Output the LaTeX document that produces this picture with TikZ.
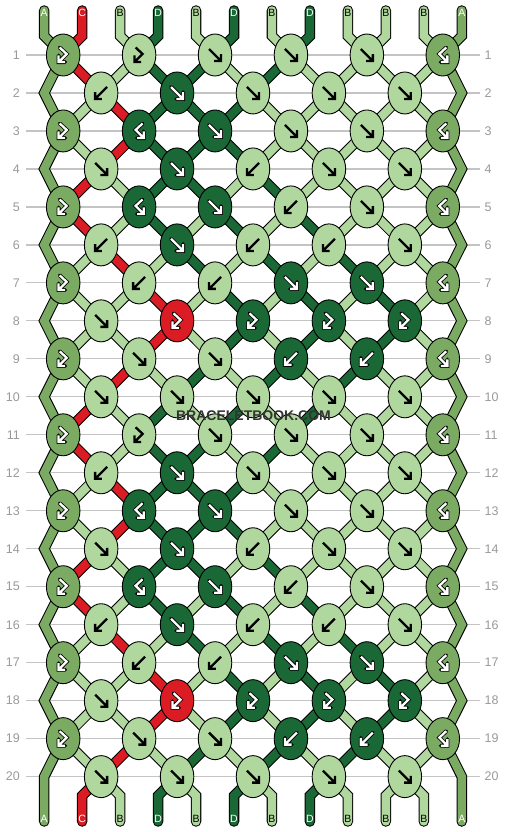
\documentclass[tikz,border=0pt]{standalone}
\usepackage{fontspec}
\setmainfont{Liberation Sans}
\usetikzlibrary{shapes.geometric}
\definecolor{colA}{HTML}{7BAA63}
\definecolor{colB}{HTML}{B0D89E}
\definecolor{colC}{HTML}{DC1C24}
\definecolor{colD}{HTML}{1A6836}
\colorlet{fgA}{white}\colorlet{fgB}{black}\colorlet{fgC}{white}\colorlet{fgD}{white}
\colorlet{hlA}{black}\colorlet{hlB}{colB}\colorlet{hlC}{black}\colorlet{hlD}{black}
\definecolor{rowgray}{HTML}{C4C4C4}
\definecolor{numgray}{HTML}{9A9A9A}
\definecolor{wmgray}{HTML}{333333}
% thread colours after each row (positions 1..12)
\expandafter\def\csname S0\endcsname{A,C,B,D,B,D,B,D,B,B,B,A}
\expandafter\def\csname S1\endcsname{A,C,B,D,D,B,D,B,B,B,B,A}
\expandafter\def\csname S2\endcsname{A,B,C,D,D,D,B,B,B,B,B,A}
\expandafter\def\csname S3\endcsname{A,B,C,D,D,D,B,B,B,B,B,A}
\expandafter\def\csname S4\endcsname{A,C,B,D,D,B,D,B,B,B,B,A}
\expandafter\def\csname S5\endcsname{A,C,B,D,B,D,B,D,B,B,B,A}
\expandafter\def\csname S6\endcsname{A,B,C,B,D,B,D,B,D,B,B,A}
\expandafter\def\csname S7\endcsname{A,B,B,C,B,D,B,D,B,D,B,A}
\expandafter\def\csname S8\endcsname{A,B,B,C,B,D,B,D,B,D,B,A}
\expandafter\def\csname S9\endcsname{A,B,C,B,D,B,D,B,D,B,B,A}
% knot types: 1 forward, 2 backward, 3 forward-backward, 4 backward-forward
\expandafter\def\csname T1\endcsname{3,3,1,1,1,4}
\expandafter\def\csname T2\endcsname{2,1,1,1,1}
\expandafter\def\csname T3\endcsname{3,4,1,1,1,4}
\expandafter\def\csname T4\endcsname{1,1,2,1,1}
\expandafter\def\csname T5\endcsname{3,4,1,2,1,4}
\expandafter\def\csname T6\endcsname{2,1,2,2,1}
\expandafter\def\csname T7\endcsname{3,2,2,1,1,4}
\expandafter\def\csname T8\endcsname{1,3,3,3,3}
\expandafter\def\csname T9\endcsname{3,1,1,2,2,4}
\expandafter\def\csname T10\endcsname{1,1,1,1,1}
\newcommand\loadstate[1]{%
  \edef\statelist{\csname S#1\endcsname}%
  \foreach \lt [count=\j] in \statelist {\expandafter\xdef\csname st\j\endcsname{\lt}}}
\tikzset{
  knot/.style={ellipse, draw=black, line width=0.9pt, minimum width=33.5pt, minimum height=42pt, inner sep=0pt},
  thread/.style={line cap=round, line join=miter},
  arrline/.style={line width=2.3pt, line cap=butt, line join=miter},
  arrhalo/.style={line width=3.9pt, line cap=round, line join=miter},
  rowline/.style={draw=rowgray, line width=1.2pt},
  rownum/.style={text=numgray, font=\fontsize{12.5}{12.5}\selectfont, inner sep=0pt},
  lbl/.style={font=\fontsize{10.5}{10.5}\selectfont, inner sep=0pt},
  wmark/.style={font=\bfseries\fontsize{14}{14}\selectfont, inner sep=0pt},
  pics/arr1/.style 2 args={code={%
    \draw[arrhalo, draw=#2] (-6,-6) -- (4.6,4.6) (6,-0.8) -- (6,6) -- (-0.8,6);
    \draw[arrline, draw=#1] (-6,-6) -- (4.6,4.6) (6,-0.8) -- (6,6) -- (-0.8,6);}},
  pics/arr2/.style 2 args={code={%
    \draw[arrhalo, draw=#2] (6,-6) -- (-4.6,4.6) (-6,-0.8) -- (-6,6) -- (0.8,6);
    \draw[arrline, draw=#1] (6,-6) -- (-4.6,4.6) (-6,-0.8) -- (-6,6) -- (0.8,6);}},
  pics/arr3/.style 2 args={code={%
    \draw[arrhalo, draw=#2] (-3.5,-7.5) -- (3.5,-1) -- (-3.6,6.1) (-4.6,0.5) -- (-4.6,7.1) -- (2,7.1);
    \draw[arrline, draw=#1] (-3.5,-7.5) -- (3.5,-1) -- (-3.6,6.1) (-4.6,0.5) -- (-4.6,7.1) -- (2,7.1);}},
  pics/arr4/.style 2 args={code={%
    \draw[arrhalo, draw=#2] (3.5,-7.5) -- (-3.5,-1) -- (3.6,6.1) (4.6,0.5) -- (4.6,7.1) -- (-2,7.1);
    \draw[arrline, draw=#1] (3.5,-7.5) -- (-3.5,-1) -- (3.6,6.1) (4.6,0.5) -- (4.6,7.1) -- (-2,7.1);}},
}
\newcommand\drawthreads[1]{%
  \ifnum#1=0 \def\tw{10.5pt}\else\def\tw{8.4pt}\fi
  \foreach \i in {1,12}{%
    \ifnum#1=0 \def\tc{black}\else\def\tc{colA}\fi
    \draw[thread, line width=\tw, draw=\tc]
      (t-\i) -- (p-0-\i) \foreach \row in {1,...,21}{ -- (p-\row-\i)} -- (b-\i);
  }%
  \foreach \gap in {0,...,20}{%
    \pgfmathtruncatemacro\sidx{mod(\gap,10)}%
    \loadstate{\sidx}%
    \pgfmathtruncatemacro\gn{\gap+1}%
    \foreach \i in {2,...,11}{%
      \edef\cl{\csname st\i\endcsname}%
      \ifnum#1=0 \def\tc{black}\else\edef\tc{col\cl}\fi
      \ifnum\gap=0
        \draw[thread, line width=\tw, draw=\tc] (t-\i) -- (p-0-\i) -- (p-1-\i);
      \else\ifnum\gap=20
        \draw[thread, line width=\tw, draw=\tc] (p-20-\i) -- (p-21-\i) -- (b-\i);
      \else
        \draw[thread, line width=\tw, draw=\tc] (p-\gap-\i) -- (p-\gn-\i);
      \fi\fi
    }%
  }%
}
\begin{document}
\begin{tikzpicture}[x=1pt,y=-1pt]
\fill[white] (0,0) rectangle (506,832);
\useasboundingbox (0,0) rectangle (506,832);
% coordinates
\foreach \i in {1,...,12}{
  \pgfmathsetmacro\xx{44.2+(\i-1)*37.96}
  \coordinate (t-\i) at (\xx,10.5);
  \coordinate (p-0-\i) at (\xx,36);
  \coordinate (p-21-\i) at (\xx,795.7);
  \coordinate (b-\i) at (\xx,821.5);
}
\foreach \row in {1,...,20}{
  \pgfmathsetmacro\yy{55+(\row-1)*37.98}
  \pgfmathtruncatemacro\odd{mod(\row,2)}
  \foreach \i in {1,...,12}{
    \pgfmathtruncatemacro\ps{\odd==1 ? \i-1+mod(\i,2) : \i-mod(\i,2)}
    \pgfmathsetmacro\xx{\ps==0 ? 44.2 : (\ps==12 ? 461.8 : 44.2+(\ps-0.5)*37.96)}
    \coordinate (p-\row-\i) at (\xx,\yy);
  }
  % row lines and numbers
  \coordinate (rl-\row) at (26,\yy);
  \coordinate (rr-\row) at (480,\yy);
  \draw[rowline] (rl-\row) -- (rr-\row);
  \node[rownum, anchor=east] (nl-\row) at (20,\yy) {\row};
  \node[rownum, anchor=west] (nr-\row) at (484.5,\yy) {\row};
}
% threads: outlines then fills
\drawthreads{0}
\drawthreads{1}
% labels
\loadstate{0}
\foreach \i in {1,...,12}{
  \edef\cl{\csname st\i\endcsname}
  \pgfmathsetmacro\xx{44.2+(\i-1)*37.96}
  \node[lbl, text=fg\cl] (lt-\i) at (\xx,13) {\cl};
  \node[lbl, text=fg\cl] (lb-\i) at (\xx,819) {\cl};
}
% knots
\foreach \row in {1,...,20}{
  \pgfmathtruncatemacro\odd{mod(\row,2)}
  \pgfmathtruncatemacro\sidx{mod(\row-1,10)}
  \pgfmathtruncatemacro\tidx{mod(\row-1,10)+1}
  \loadstate{\sidx}
  \edef\tlist{\csname T\tidx\endcsname}
  \foreach \ty [count=\k] in \tlist {
    \pgfmathtruncatemacro\ps{2*\k-\odd}
    \pgfmathtruncatemacro\pq{\ps+1}
    \ifodd\ty\relax \edef\kl{\csname st\ps\endcsname}\else \edef\kl{\csname st\pq\endcsname}\fi
    \node[knot, fill=col\kl] (k-\row-\k) at (p-\row-\ps) {};
    \pic at (k-\row-\k) {arr\ty={fg\kl}{hl\kl}};
  }
}
% watermark
\node[wmark, text=wmgray] (wm) at (253.5,416) {BRACELETBOOK.COM};
\end{tikzpicture}
\end{document}
